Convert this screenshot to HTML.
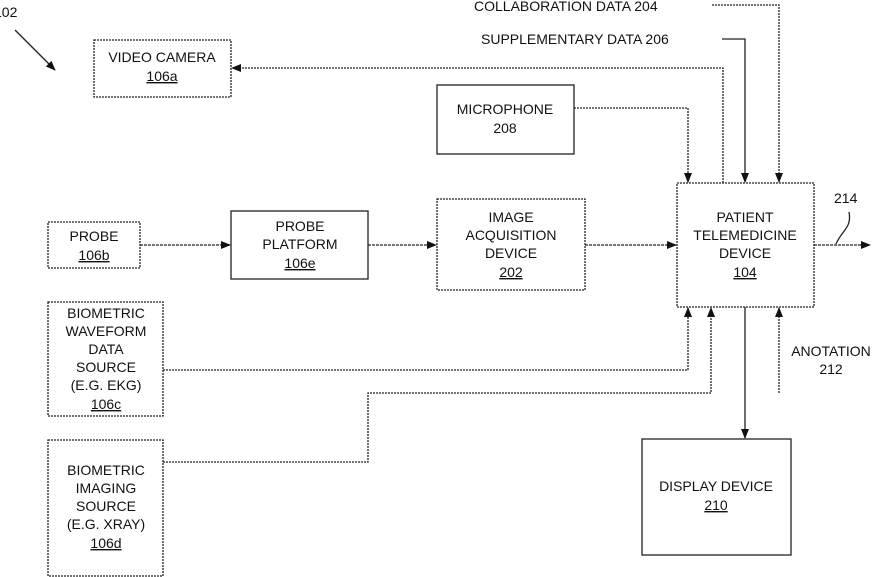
<!DOCTYPE html>
<html><head><meta charset="utf-8"><style>
html,body{margin:0;padding:0;background:#fff;}
svg{display:block;}
text{font-family:"Liberation Sans",Arial,sans-serif;font-size:14px;fill:#111;}
</style></head><body>
<svg width="875" height="577" viewBox="0 0 875 577" xmlns="http://www.w3.org/2000/svg">
<defs>
<marker id="a" markerWidth="10" markerHeight="8" refX="9" refY="4" orient="auto" markerUnits="userSpaceOnUse">
<path d="M0,0 L10,4 L0,8 z" fill="#111"/></marker>
</defs>
<g fill="none" stroke="#222" stroke-width="1.3">
<!-- boxes -->
<rect x="94" y="40" width="137" height="57" stroke-dasharray="2 1"/>
<rect x="437" y="85" width="137" height="69"/>
<rect x="48" y="222" width="92" height="46" stroke-dasharray="2 1"/>
<rect x="231" y="211" width="137" height="68"/>
<rect x="437" y="199" width="148" height="91" stroke-dasharray="2 1"/>
<rect x="677" y="183" width="137" height="124" stroke-dasharray="2 1"/>
<rect x="48" y="302" width="115" height="114" stroke-dasharray="2 1"/>
<rect x="48" y="440" width="115" height="136" stroke-dasharray="2 1"/>
<rect x="642" y="439" width="149" height="116"/>
<!-- connectors -->
<path d="M723,183 V68 H232" marker-end="url(#a)" stroke-dasharray="2 1" marker-start="none"/>
<path d="M574,108 H688 V182" marker-end="url(#a)" stroke-dasharray="2 1"/>
<path d="M722,39 H745 V182" marker-end="url(#a)"/>
<path d="M712,5 H779 V182" marker-end="url(#a)" stroke-dasharray="2 1"/>
<path d="M140,245 H230" marker-end="url(#a)" stroke-dasharray="3 1"/>
<path d="M368,245 H436" marker-end="url(#a)" stroke-dasharray="3 1"/>
<path d="M585,245 H676" marker-end="url(#a)" stroke-dasharray="3 1"/>
<path d="M814,245 H870" marker-end="url(#a)" stroke-dasharray="3 1"/>
<path d="M836,244 C842,230 852,228 849,212"/>
<path d="M163,370 H688 V308" marker-end="url(#a)" stroke-dasharray="2 1"/>
<path d="M163,462 H368 V393 H711 V308" marker-end="url(#a)" stroke-dasharray="2 1"/>
<path d="M779,393 V308" marker-end="url(#a)" stroke-dasharray="2 1"/>
<path d="M745,307 V438" marker-end="url(#a)"/>
<path d="M15,30 L55,70" marker-end="url(#a)"/>
</g>
<g text-anchor="middle">
<text x="162" y="62">VIDEO CAMERA</text>
<text x="162" y="81" text-decoration="underline">106a</text>
<text x="505" y="114">MICROPHONE</text>
<text x="505" y="133">208</text>
<text x="94" y="241">PROBE</text>
<text x="94" y="260" text-decoration="underline">106b</text>
<text x="300" y="231">PROBE</text>
<text x="300" y="249">PLATFORM</text>
<text x="300" y="268" text-decoration="underline">106e</text>
<text x="511" y="222">IMAGE</text>
<text x="511" y="240">ACQUISITION</text>
<text x="511" y="258">DEVICE</text>
<text x="511" y="277" text-decoration="underline">202</text>
<text x="745" y="222">PATIENT</text>
<text x="745" y="240">TELEMEDICINE</text>
<text x="745" y="258">DEVICE</text>
<text x="745" y="277" text-decoration="underline">104</text>
<text x="106" y="318">BIOMETRIC</text>
<text x="106" y="336">WAVEFORM</text>
<text x="106" y="354">DATA</text>
<text x="106" y="372">SOURCE</text>
<text x="106" y="390">(E.G. EKG)</text>
<text x="106" y="409" text-decoration="underline">106c</text>
<text x="106" y="475">BIOMETRIC</text>
<text x="106" y="493">IMAGING</text>
<text x="106" y="511">SOURCE</text>
<text x="106" y="529">(E.G. XRAY)</text>
<text x="106" y="548" text-decoration="underline">106d</text>
<text x="716" y="491">DISPLAY DEVICE</text>
<text x="716" y="510" text-decoration="underline">210</text>
<text x="831" y="356">ANOTATION</text>
<text x="831" y="374">212</text>
</g>
<text x="474" y="11">COLLABORATION DATA 204</text>
<text x="481" y="44">SUPPLEMENTARY DATA 206</text>
<text x="834" y="203">214</text>
<text x="-6" y="17">102</text>
</svg>
</body></html>
